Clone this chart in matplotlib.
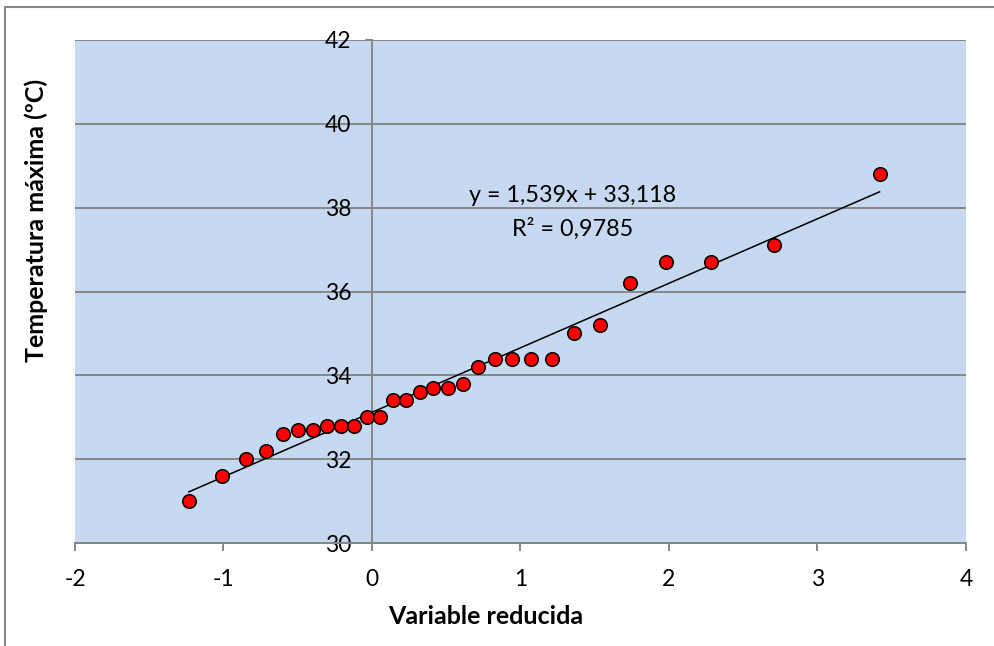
"""
Gumbel fit: temperatura maxima vs variable reducida
"""
import matplotlib
matplotlib.use("Agg")
import matplotlib.pyplot as plt
import matplotlib.patches as patches
import numpy as np

plt.rcParams['font.family'] = ['Lato', 'DejaVu Sans']
plt.rcParams['axes.unicode_minus'] = False

# variable reducida
x_red = [-1.234, -1.008, -0.848, -0.717, -0.601, -0.496, -0.398, -0.303,
         -0.212, -0.123, -0.036, 0.052, 0.140, 0.230, 0.320, 0.414, 0.510,
         0.610, 0.714, 0.825, 0.943, 1.070, 1.209, 1.363, 1.537, 1.738,
         1.980, 2.285, 2.708, 3.418]
# temperatura maxima (ºC)
t_max = [31.0, 31.6, 32.0, 32.2, 32.6, 32.7, 32.7, 32.8, 32.8, 32.8,
         33.0, 33.0, 33.4, 33.4, 33.6, 33.7, 33.7, 33.8, 34.2, 34.4,
         34.4, 34.4, 34.4, 35.0, 35.2, 36.2, 36.7, 36.7, 37.1, 38.8]

slope = 1.539
intercept = 33.118
eq_text = "y = 1,539x + 33,118"
r2_text = "R² = 0,9785"

x_ticks = [-2, -1, 0, 1, 2, 3, 4]
y_ticks = [30, 32, 34, 36, 38, 40, 42]

GRID = '#868686'
FILL = '#C6D9F1'

fig = plt.figure(figsize=(9.95, 6.46), dpi=100)
ax = fig.add_axes([75 / 995, 1 - 543 / 646, (966 - 75) / 995, (543 - 40) / 646])

# outer chart border (only top/left visible in the image)
fig.patches.append(patches.Rectangle((5 / 995, -0.1), 1.2, 1 - 7 / 646 + 0.1,
                                     transform=fig.transFigure, fill=False,
                                     edgecolor=GRID, linewidth=1.5))

ax.set_facecolor(FILL)
ax.set_xlim(-2, 4)
ax.set_ylim(30, 42)
ax.set_xticks(x_ticks)
ax.set_yticks(y_ticks)
ax.yaxis.grid(True, color=GRID, linewidth=1.4)
ax.set_axisbelow(True)

for side in ('top', 'right'):
    ax.spines[side].set_visible(False)
ax.spines['left'].set_position(('data', 0))
ax.spines['left'].set_color(GRID)
ax.spines['left'].set_linewidth(1.4)
ax.spines['bottom'].set_color(GRID)
ax.spines['bottom'].set_linewidth(1.4)

ax.tick_params(axis='x', direction='out', length=6, width=1.4, color=GRID,
               labelsize=16.5, pad=13)
ax.tick_params(axis='y', direction='out', length=5, width=1.4, color=GRID,
               labelsize=16.5, pad=10)

xs = np.array([min(x_red), max(x_red)])
ax.plot(xs, slope * xs + intercept, color='black', linewidth=1.1, zorder=3)
ax.scatter(x_red, t_max, s=95, color='#FF0000', edgecolor='black',
           linewidth=1.1, zorder=4)

ax.text(1.35, 38.3, eq_text, fontsize=16.8, ha='center', va='center')
ax.text(1.35, 37.5, r2_text, fontsize=16.8, ha='center', va='center')

fig.text(486 / 995, 1 - 617 / 646, "Variable reducida", fontsize=18,
         fontweight='bold', ha='center', va='center')
fig.text(36 / 995, 1 - 220 / 646, "Temperatura máxima (ºC)", fontsize=18,
         fontweight='bold', ha='center', va='center', rotation=90)

plt.savefig("out.png", dpi=100)
